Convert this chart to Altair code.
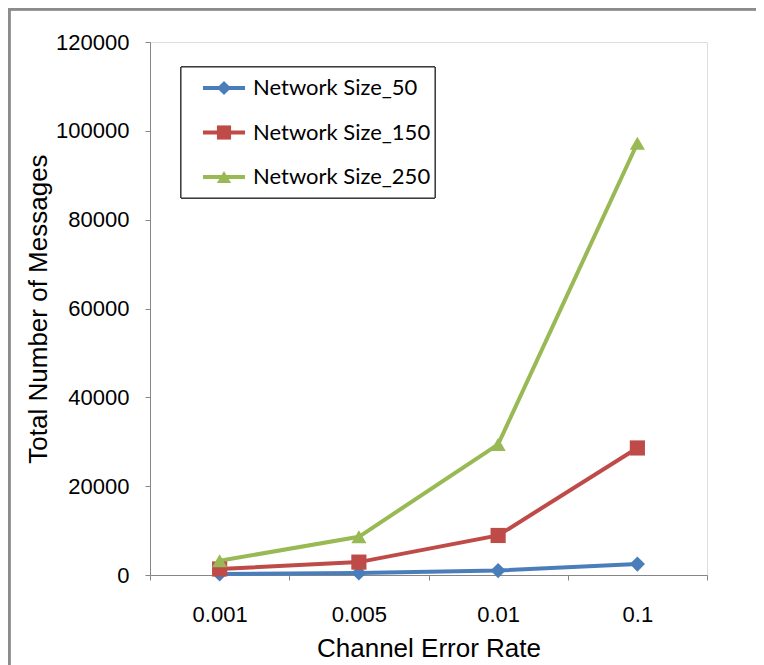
import altair as alt
import pandas as pd

rates = ["0.001", "0.005", "0.01", "0.1"]
series = ["Network Size_50", "Network Size_150", "Network Size_250"]
size_50 = [250, 450, 1000, 2450]
size_150 = [1350, 2900, 8900, 28600]
size_250 = [3200, 8600, 29400, 97200]

colors = ["#4A7EBB", "#BE4B48", "#98B954"]
shapes = ["diamond", "square", "triangle-up"]

rows = []
for name, vals in zip(series, [size_50, size_150, size_250]):
    for r, v in zip(rates, vals):
        rows.append({"rate": r, "series": name, "value": v})
df = pd.DataFrame(rows)
leg = pd.DataFrame({"series": series, "idx": list(range(len(series)))})

AX_FONT = "Liberation Sans"
LEG_FONT = "Lato"
W, H = 557, 533

color = alt.Color("series:N", scale=alt.Scale(domain=series, range=colors), legend=None)
shape = alt.Shape("series:N", scale=alt.Scale(domain=series, range=shapes), legend=None)

xenc = alt.X(
    "rate:N", sort=rates, bandPosition=0.5,
    scale=alt.Scale(type="band", paddingInner=0, paddingOuter=0),
    axis=alt.Axis(title="Channel Error Rate", tickBand="extent", labelAngle=0,
                  labelFontSize=22, titleFontSize=26, labelPadding=24, titlePadding=10,
                  titleFontWeight="normal", labelColor="#000", titleColor="#000",
                  domainColor="#868686", tickColor="#868686", tickSize=5, grid=False,
                  labelFont=AX_FONT, titleFont=AX_FONT),
)
yenc = alt.Y(
    "value:Q", scale=alt.Scale(domain=[0, 120000], nice=False),
    axis=alt.Axis(title="Total Number of Messages", values=list(range(0, 120001, 20000)),
                  format="d", labelFontSize=22, titleFontSize=26, labelPadding=16,
                  titlePadding=4, titleFontWeight="normal", labelColor="#000",
                  titleColor="#000", domainColor="#868686", tickColor="#868686",
                  tickSize=5, grid=False, labelFont=AX_FONT, titleFont=AX_FONT),
)

base = alt.Chart(df)
lines = base.mark_line(strokeWidth=4).encode(x=xenc, y=yenc, color=color, detail="series:N")
points = base.mark_point(filled=True, size=230, opacity=1).encode(
    x=xenc, y=yenc, color=color, shape=shape)

frame_top = alt.Chart(leg).mark_rule(stroke="#8C8C8C", strokeWidth=3).encode(
    x=alt.value(-141), x2=alt.value(700), y=alt.value(-33))
frame_left = alt.Chart(leg).mark_rule(stroke="#8C8C8C", strokeWidth=3).encode(
    x=alt.value(-141), y=alt.value(-34), y2=alt.value(700))

main = alt.layer(frame_top, frame_left, lines, points)

ly = alt.Y("idx:Q", scale=alt.Scale(domain=[0, 2], range=[46, 135]), axis=None)
box = alt.Chart(leg).mark_rect(fill="white", stroke="#222", strokeWidth=1).encode(
    x=alt.value(31), x2=alt.value(285), y=alt.value(25), y2=alt.value(156))
lrule = alt.Chart(leg).mark_rule(strokeWidth=4).encode(
    x=alt.value(53), x2=alt.value(95), y=ly, color=color)
lpt = alt.Chart(leg).mark_point(filled=True, size=200, opacity=1).encode(
    x=alt.value(74), y=ly, color=color, shape=shape)
ltext = alt.Chart(leg).mark_text(align="left", baseline="middle", fontSize=22,
                                 font=LEG_FONT, color="#000").encode(
    x=alt.value(103), y=ly, text="series:N")
legend = alt.layer(box, lrule, lpt, ltext)

chart = alt.layer(main, legend).resolve_scale(y="independent").properties(
    width=W, height=H,
    padding={"left": 142, "top": 34, "right": 49, "bottom": 92},
    autosize=alt.AutoSizeParams(type="none"),
).configure_view(stroke="#BFBFBF", strokeWidth=1).configure(background="white")

chart.save("out.html", embed_options={"renderer": "svg", "actions": False})
